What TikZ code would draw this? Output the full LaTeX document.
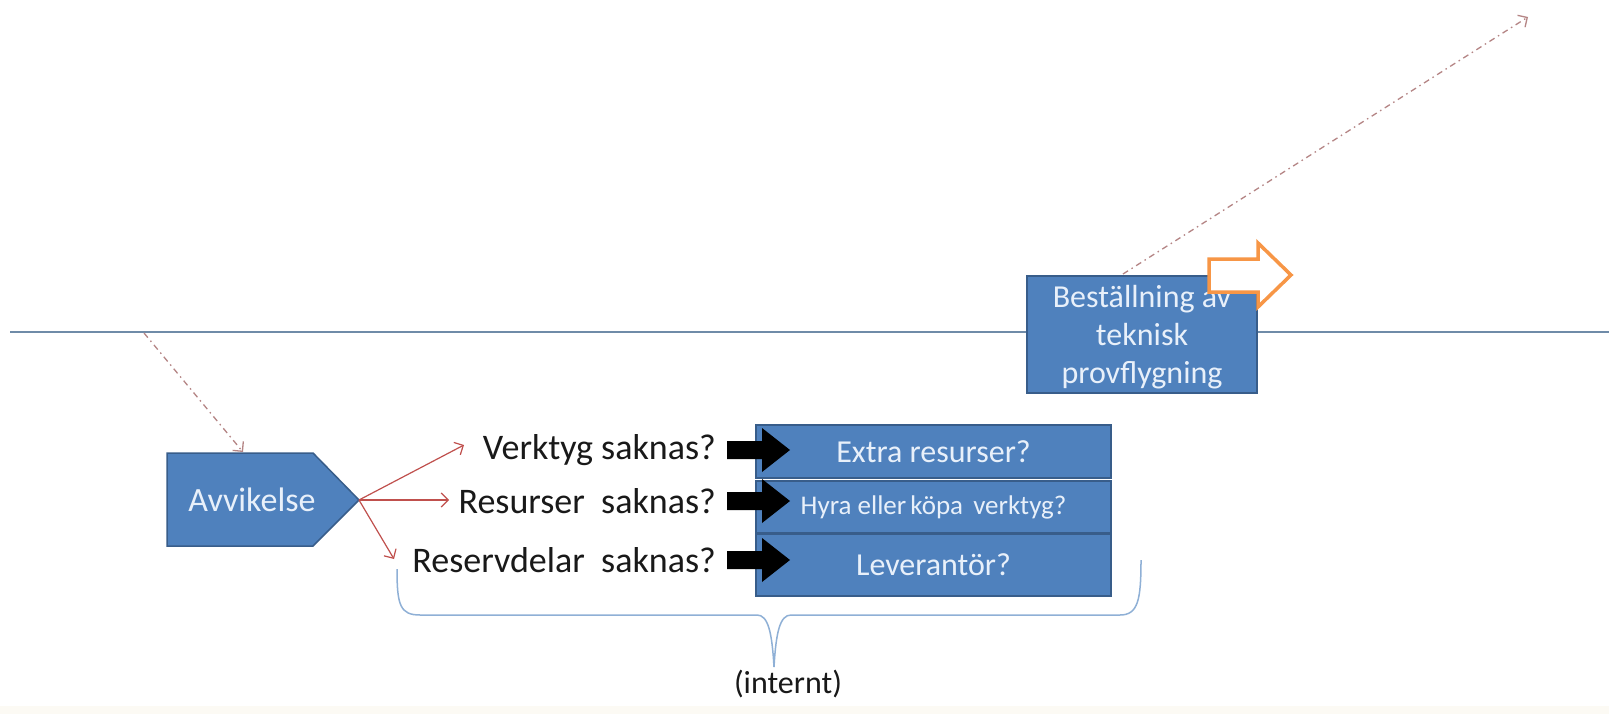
\documentclass[tikz,border=0pt]{standalone}
\usepackage{fontspec}
\setmainfont{Carlito}
\usetikzlibrary{arrows.meta}
\definecolor{boxblue}{HTML}{4F81BD}
\definecolor{boxedge}{HTML}{385D8A}
\definecolor{txtlight}{HTML}{E8F0FA}
\definecolor{redarr}{HTML}{C0504D}
\definecolor{lineblue}{HTML}{6F8BA8}
\definecolor{orangea}{HTML}{F79646}
\definecolor{dashred}{HTML}{B58585}
\definecolor{bracec}{HTML}{8FB0D6}
\definecolor{bandc}{HTML}{FCFAF4}
\begin{document}
\begin{tikzpicture}[x=1pt,y=-1pt,
  bluebox/.style={draw=boxedge,fill=boxblue,line width=2pt,text=txtlight,inner sep=0pt,align=center},
  qlabel/.style={text=black!90,font=\fontsize{36}{40}\selectfont,inner sep=0pt,anchor=east},
  redline/.style={draw=redarr,line width=1.2pt,-{Straight Barb[length=7pt,width=14pt]}},
  dashdot/.style={draw=dashred,line width=1.3pt,dash pattern=on 6pt off 4pt on 1.5pt off 4pt,-{Straight Barb[length=7pt,width=14pt]}},
  blackarrow/.style={fill=black},
]
\fill[white] (0,0) rectangle (1609,714);
\useasboundingbox (0,0) rectangle (1609,714);
\fill[bandc] (0,706) rectangle (1609,714);

% horizontal line
\draw[lineblue,line width=2pt] (10,332) -- (1609,332);

% Beställning box
\node[bluebox,minimum width=230pt,minimum height=117pt] (best) at (1142,334) {};
\node[text=txtlight,align=center,inner sep=0pt,font=\fontsize{32}{38}\selectfont] (besttext) at (1142,337) {Beställning av\\teknisk\\provflygning};

% orange hollow arrow
\draw[orangea,fill=white,line width=3.5pt,line join=miter] (1209,259) -- (1258,259) -- (1258,243) -- (1291,275) -- (1258,307) -- (1258,292) -- (1209,292) -- cycle;

% upper dash-dot arrow
\coordinate (upstart) at (1123,274);
\coordinate (upend) at (1528,17);
\draw[dashdot] (upstart) -- (upend);

% Avvikelse pentagon
\draw[boxedge,fill=boxblue,line width=1.5pt,line join=miter] (167,453) -- (313,453) -- (359,500) -- (313,546) -- (167,546) -- cycle;
\node[text=txtlight,font=\fontsize{34}{36}\selectfont,inner sep=0pt] (avv) at (252,500) {Avvikelse};
\coordinate (avtip) at (359,500);
\coordinate (avtop) at (243,452);

% lower dash-dot arrow
\coordinate (lowstart) at (144,333);
\draw[dashdot] (lowstart) -- (avtop);

% question labels
\node[qlabel] (q1) at (716,450) {Verktyg saknas?};
\node[qlabel] (q2) at (716,501) {Resurser\ \ saknas?};
\node[qlabel] (q3) at (716,560) {Reservdelar\ \ saknas?};

\coordinate (e1) at (464,445);
\coordinate (e2) at (449,500);
\coordinate (e3) at (394,559);
\draw[redline] (avtip) -- (e1);
\draw[redline] (avtip) -- (e2);
\draw[redline] (avtip) -- (e3);

% blue answer boxes
\node[bluebox,minimum width=355pt,minimum height=53pt,font=\fontsize{32}{34}\selectfont] (a1) at (933.5,451.5) {Extra resurser?};
\node[bluebox,minimum width=355pt,minimum height=52pt,font=\fontsize{27}{29}\selectfont] (a2) at (933.5,507) {Hyra eller\kern-2pt\ köpa\hspace{4pt} verktyg?};
\node[bluebox,minimum width=355pt,minimum height=62pt,font=\fontsize{32}{34}\selectfont] (a3) at (933.5,565) {Leverantör?};

% black block arrows
\foreach \yy in {450,501,560}{
  \fill[blackarrow] (727,\yy-9) -- (762,\yy-9) -- (762,\yy-22) -- (790,\yy) -- (762,\yy+22) -- (762,\yy+9) -- (727,\yy+9) -- cycle;
}

% brace
\draw[bracec,line width=1.5pt] (397,569) .. controls (397,605) and (400,615) .. (420,615) -- (757,615) .. controls (768,615) and (772,632) .. (774,667) .. controls (776,632) and (780,615) .. (791,615) -- (1120,615) .. controls (1138,615) and (1141,600) .. (1141,560);
\node[text=black!90,font=\fontsize{32}{34}\selectfont,inner sep=0pt] (intern) at (788,684) {(internt)};
\end{tikzpicture}
\end{document}
